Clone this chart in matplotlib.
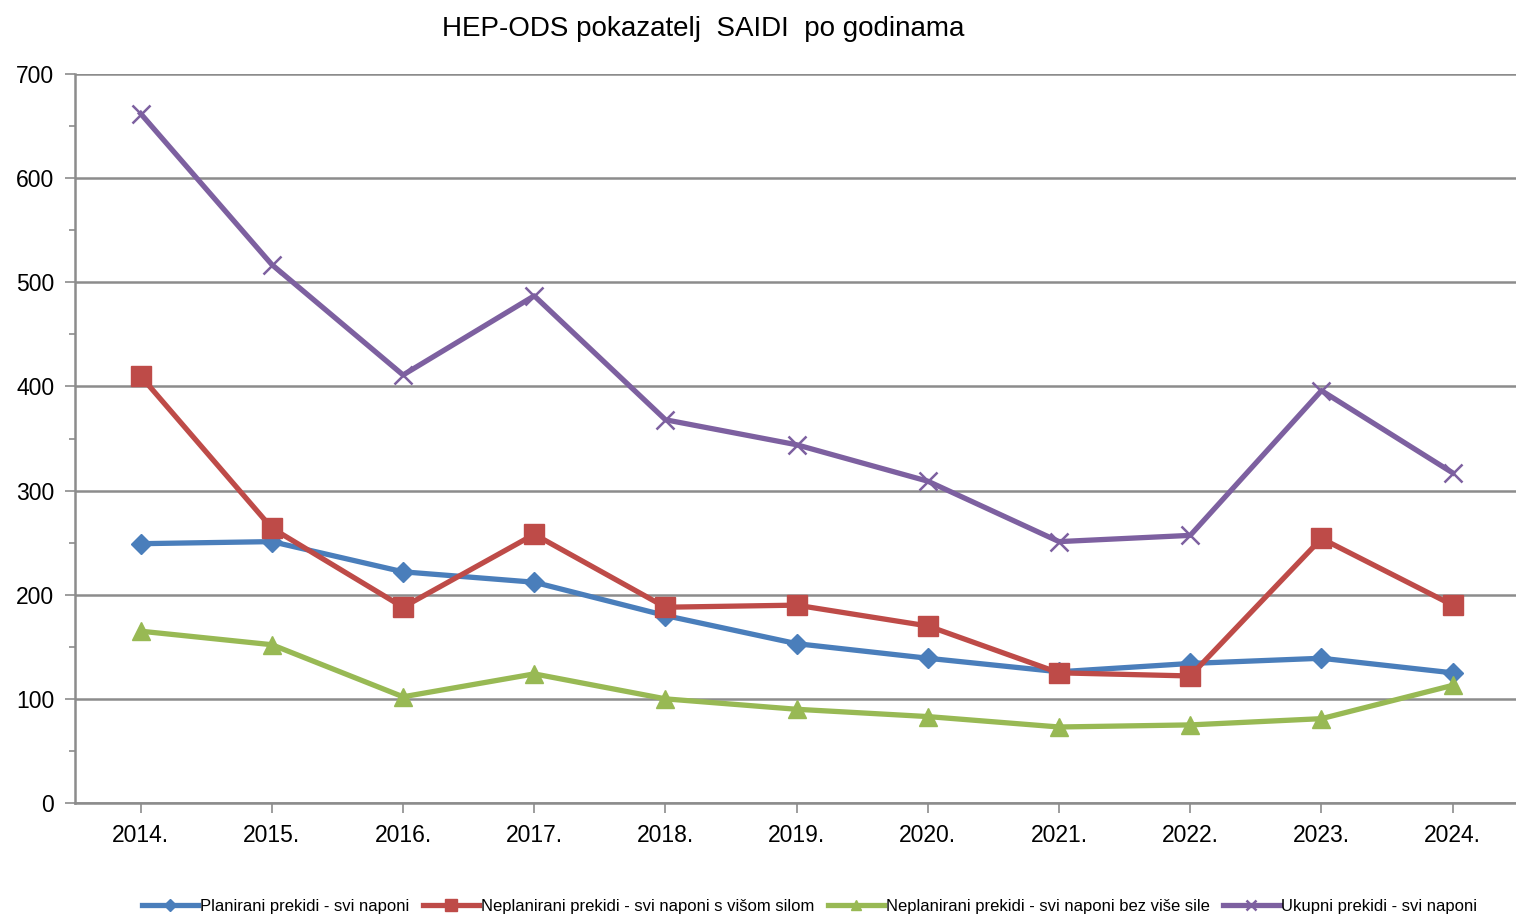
import matplotlib
matplotlib.use('Agg')
import matplotlib.pyplot as plt
from matplotlib.ticker import MultipleLocator

# data
years = ['2014.', '2015.', '2016.', '2017.', '2018.', '2019.', '2020.', '2021.', '2022.', '2023.', '2024.']
planirani = [249, 251, 222, 212, 180, 153, 139, 126, 134, 139, 125]
neplanirani_sila = [410, 264, 188, 258, 188, 190, 170, 125, 122, 254, 190]
neplanirani_bez = [165, 152, 102, 124, 100, 90, 83, 73, 75, 81, 113]
ukupni = [662, 517, 411, 487, 368, 344, 309, 251, 257, 396, 317]

labels = ['Planirani prekidi - svi naponi',
          'Neplanirani prekidi - svi naponi s višom silom',
          'Neplanirani prekidi - svi naponi bez više sile',
          'Ukupni prekidi - svi naponi']

plt.rcParams['font.family'] = ['Liberation Sans', 'DejaVu Sans']

fig = plt.figure(figsize=(15.16, 9.17), dpi=100)
ax = fig.add_axes([0.0495, 0.1243, 0.952, 0.795])

x = range(len(years))
lw = 3.8
p1, = ax.plot(x, planirani, color='#4a7ebb', lw=lw, marker='D', ms=10, label=labels[0])
p2, = ax.plot(x, neplanirani_sila, color='#be4b48', lw=lw, marker='s', ms=14, label=labels[1])
p3, = ax.plot(x, neplanirani_bez, color='#98b954', lw=lw, marker='^', ms=13, label=labels[2])
p4, = ax.plot(x, ukupni, color='#7d60a0', lw=lw, marker='x', ms=13, mew=1.8, label=labels[3])

ax.set_xlim(-0.5, 10.5)
ax.set_ylim(0, 700)
ax.yaxis.set_major_locator(MultipleLocator(100))
ax.yaxis.set_minor_locator(MultipleLocator(50))
ax.set_xticks(list(x))
ax.set_xticklabels(years)
ax.grid(axis='y', which='major', color='#8c8c8c', lw=1.8)
ax.set_axisbelow(True)
for s in ['top', 'right']:
    ax.spines[s].set_visible(False)
for s in ['left', 'bottom']:
    ax.spines[s].set_color('#8c8c8c')
    ax.spines[s].set_linewidth(1.8)
ax.tick_params(axis='both', which='major', labelsize=16.5, color='#8c8c8c', length=7, width=1.2)
ax.tick_params(axis='y', which='minor', color='#8c8c8c', length=4, width=1.2)
ax.tick_params(axis='y', pad=8)
ax.tick_params(axis='x', pad=8)

fig.suptitle('HEP-ODS pokazatelj  SAIDI  po godinama', x=0.464, y=0.983, fontsize=20)

fig.legend(handles=[p1, p2, p3, p4], loc='lower center', bbox_to_anchor=(0.534, -0.013),
           ncol=4, frameon=False, handlelength=3.4, handletextpad=0.1,
           columnspacing=0.8, markerscale=0.6,
           prop={'family': ['Liberation Sans Narrow', 'Liberation Sans'], 'size': 12})

fig.savefig('out.png', dpi=100)
